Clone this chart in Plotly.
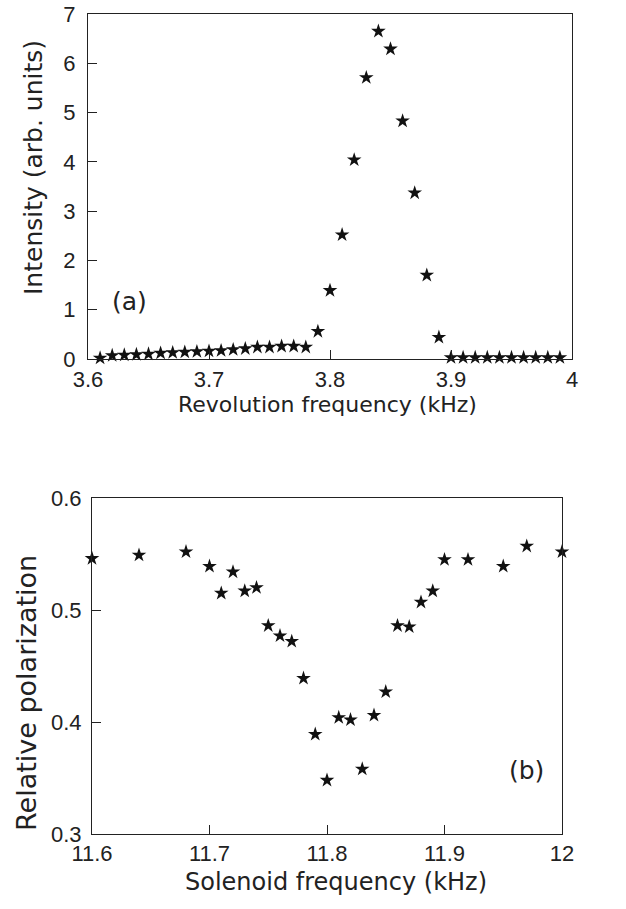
import plotly.graph_objects as go

# ---- Data: panel (a) ----
rev_freq = [3.61, 3.62, 3.63, 3.64, 3.65, 3.66, 3.67, 3.68, 3.69, 3.70,
            3.71, 3.72, 3.73, 3.74, 3.75, 3.76, 3.77, 3.78, 3.79, 3.80,
            3.81, 3.82, 3.83, 3.84, 3.85, 3.86, 3.87, 3.88, 3.89, 3.90,
            3.91, 3.92, 3.93, 3.94, 3.95, 3.96, 3.97, 3.98, 3.99]
intensity = [0.02, 0.07, 0.08, 0.09, 0.10, 0.12, 0.13, 0.14, 0.15, 0.16,
             0.17, 0.19, 0.21, 0.24, 0.24, 0.26, 0.26, 0.24, 0.56, 1.39,
             2.52, 4.04, 5.71, 6.65, 6.29, 4.83, 3.37, 1.70, 0.44, 0.03,
             0.03, 0.03, 0.03, 0.03, 0.03, 0.03, 0.03, 0.03, 0.03]

# ---- Data: panel (b) ----
sol_freq = [11.60, 11.64, 11.68, 11.70, 11.71, 11.72, 11.73, 11.74, 11.75, 11.76,
            11.77, 11.78, 11.79, 11.80, 11.81, 11.82, 11.83, 11.84, 11.85, 11.86,
            11.87, 11.88, 11.89, 11.90, 11.92, 11.95, 11.97, 12.00]
polarization = [0.546, 0.549, 0.552, 0.539, 0.515, 0.534, 0.517, 0.520, 0.486, 0.477,
                0.472, 0.439, 0.389, 0.348, 0.404, 0.402, 0.358, 0.406, 0.427, 0.486,
                0.485, 0.507, 0.517, 0.545, 0.545, 0.539, 0.557, 0.552]

# ---- Tick labels ----
xa_ticks = [3.6, 3.7, 3.8, 3.9, 4.0]
xa_text = ["3.6", "3.7", "3.8", "3.9", "4"]
ya_ticks = [0, 1, 2, 3, 4, 5, 6, 7]
ya_text = ["0", "1", "2", "3", "4", "5", "6", "7"]
xb_ticks = [11.6, 11.7, 11.8, 11.9, 12.0]
xb_text = ["11.6", "11.7", "11.8", "11.9", "12"]
yb_ticks = [0.3, 0.4, 0.5, 0.6]
yb_text = ["0.3", "0.4", "0.5", "0.6"]

W, H = 626, 909
tick_font = dict(family="Liberation Sans, Arial, sans-serif", size=22, color="#222")
title_family = "DejaVu Sans, sans-serif"
label_font = dict(family=title_family, size=25, color="#222")
marker = dict(symbol="star", size=11, color="#111", line=dict(width=0))

fig = go.Figure()
fig.add_trace(go.Scatter(x=rev_freq, y=intensity, mode="markers", marker=marker,
                         xaxis="x", yaxis="y", showlegend=False, cliponaxis=False))
fig.add_trace(go.Scatter(x=sol_freq, y=polarization, mode="markers", marker=marker,
                         xaxis="x2", yaxis="y2", showlegend=False, cliponaxis=False))

axis_common = dict(showgrid=False, zeroline=False, showline=True, linecolor="#222",
                   linewidth=1, mirror=True, ticks="inside", ticklen=9, tickcolor="#222",
                   tickfont=tick_font, automargin=False)

fig.update_layout(
    width=W, height=H,
    margin=dict(l=0, r=0, t=0, b=0, autoexpand=False),
    paper_bgcolor="white", plot_bgcolor="white",
    xaxis=dict(domain=[88 / W, 572 / W], range=[3.6, 4.0], anchor="y",
               tickvals=xa_ticks, ticktext=xa_text, ticklabelstandoff=1, **axis_common),
    yaxis=dict(domain=[1 - 359 / H, 1 - 14 / H], range=[0, 7], anchor="x",
               tickvals=ya_ticks, ticktext=ya_text, ticklabelstandoff=7, **axis_common),
    xaxis2=dict(domain=[92 / W, 562 / W], range=[11.6, 12.0], anchor="y2",
                tickvals=xb_ticks, ticktext=xb_text, ticklabelstandoff=0, **axis_common),
    yaxis2=dict(domain=[1 - 834 / H, 1 - 498 / H], range=[0.3, 0.6], anchor="x2",
                tickvals=yb_ticks, ticktext=yb_text, ticklabelstandoff=5, **axis_common),
)

annotations = [
    dict(text="Revolution frequency (kHz)", x=327 / W, y=1 - 404 / H, xref="paper", yref="paper",
         showarrow=False, font=dict(family=title_family, size=22, color="#222"),
         xanchor="center", yanchor="middle"),
    dict(text="Intensity (arb. units)", x=33 / W, y=1 - 168 / H, xref="paper", yref="paper",
         showarrow=False, font=dict(family=title_family, size=25, color="#222"),
         textangle=-90, xanchor="center", yanchor="middle"),
    dict(text="Solenoid frequency (kHz)", x=336 / W, y=1 - 882 / H, xref="paper", yref="paper",
         showarrow=False, font=dict(family=title_family, size=24, color="#222"),
         xanchor="center", yanchor="middle"),
    dict(text="Relative polarization", x=26 / W, y=1 - 693 / H, xref="paper", yref="paper",
         showarrow=False, font=dict(family=title_family, size=27, color="#222"),
         textangle=-90, xanchor="center", yanchor="middle"),
    dict(text="(a)", x=3.634, y=1.16, xref="x", yref="y", showarrow=False, font=label_font),
    dict(text="(b)", x=11.97, y=0.357, xref="x2", yref="y2", showarrow=False, font=label_font),
]
fig.update_layout(annotations=annotations)

fig.write_html("out.html", config={"displayModeBar": False},
               post_script="document.body.style.margin='0';document.body.style.overflow='hidden';")
